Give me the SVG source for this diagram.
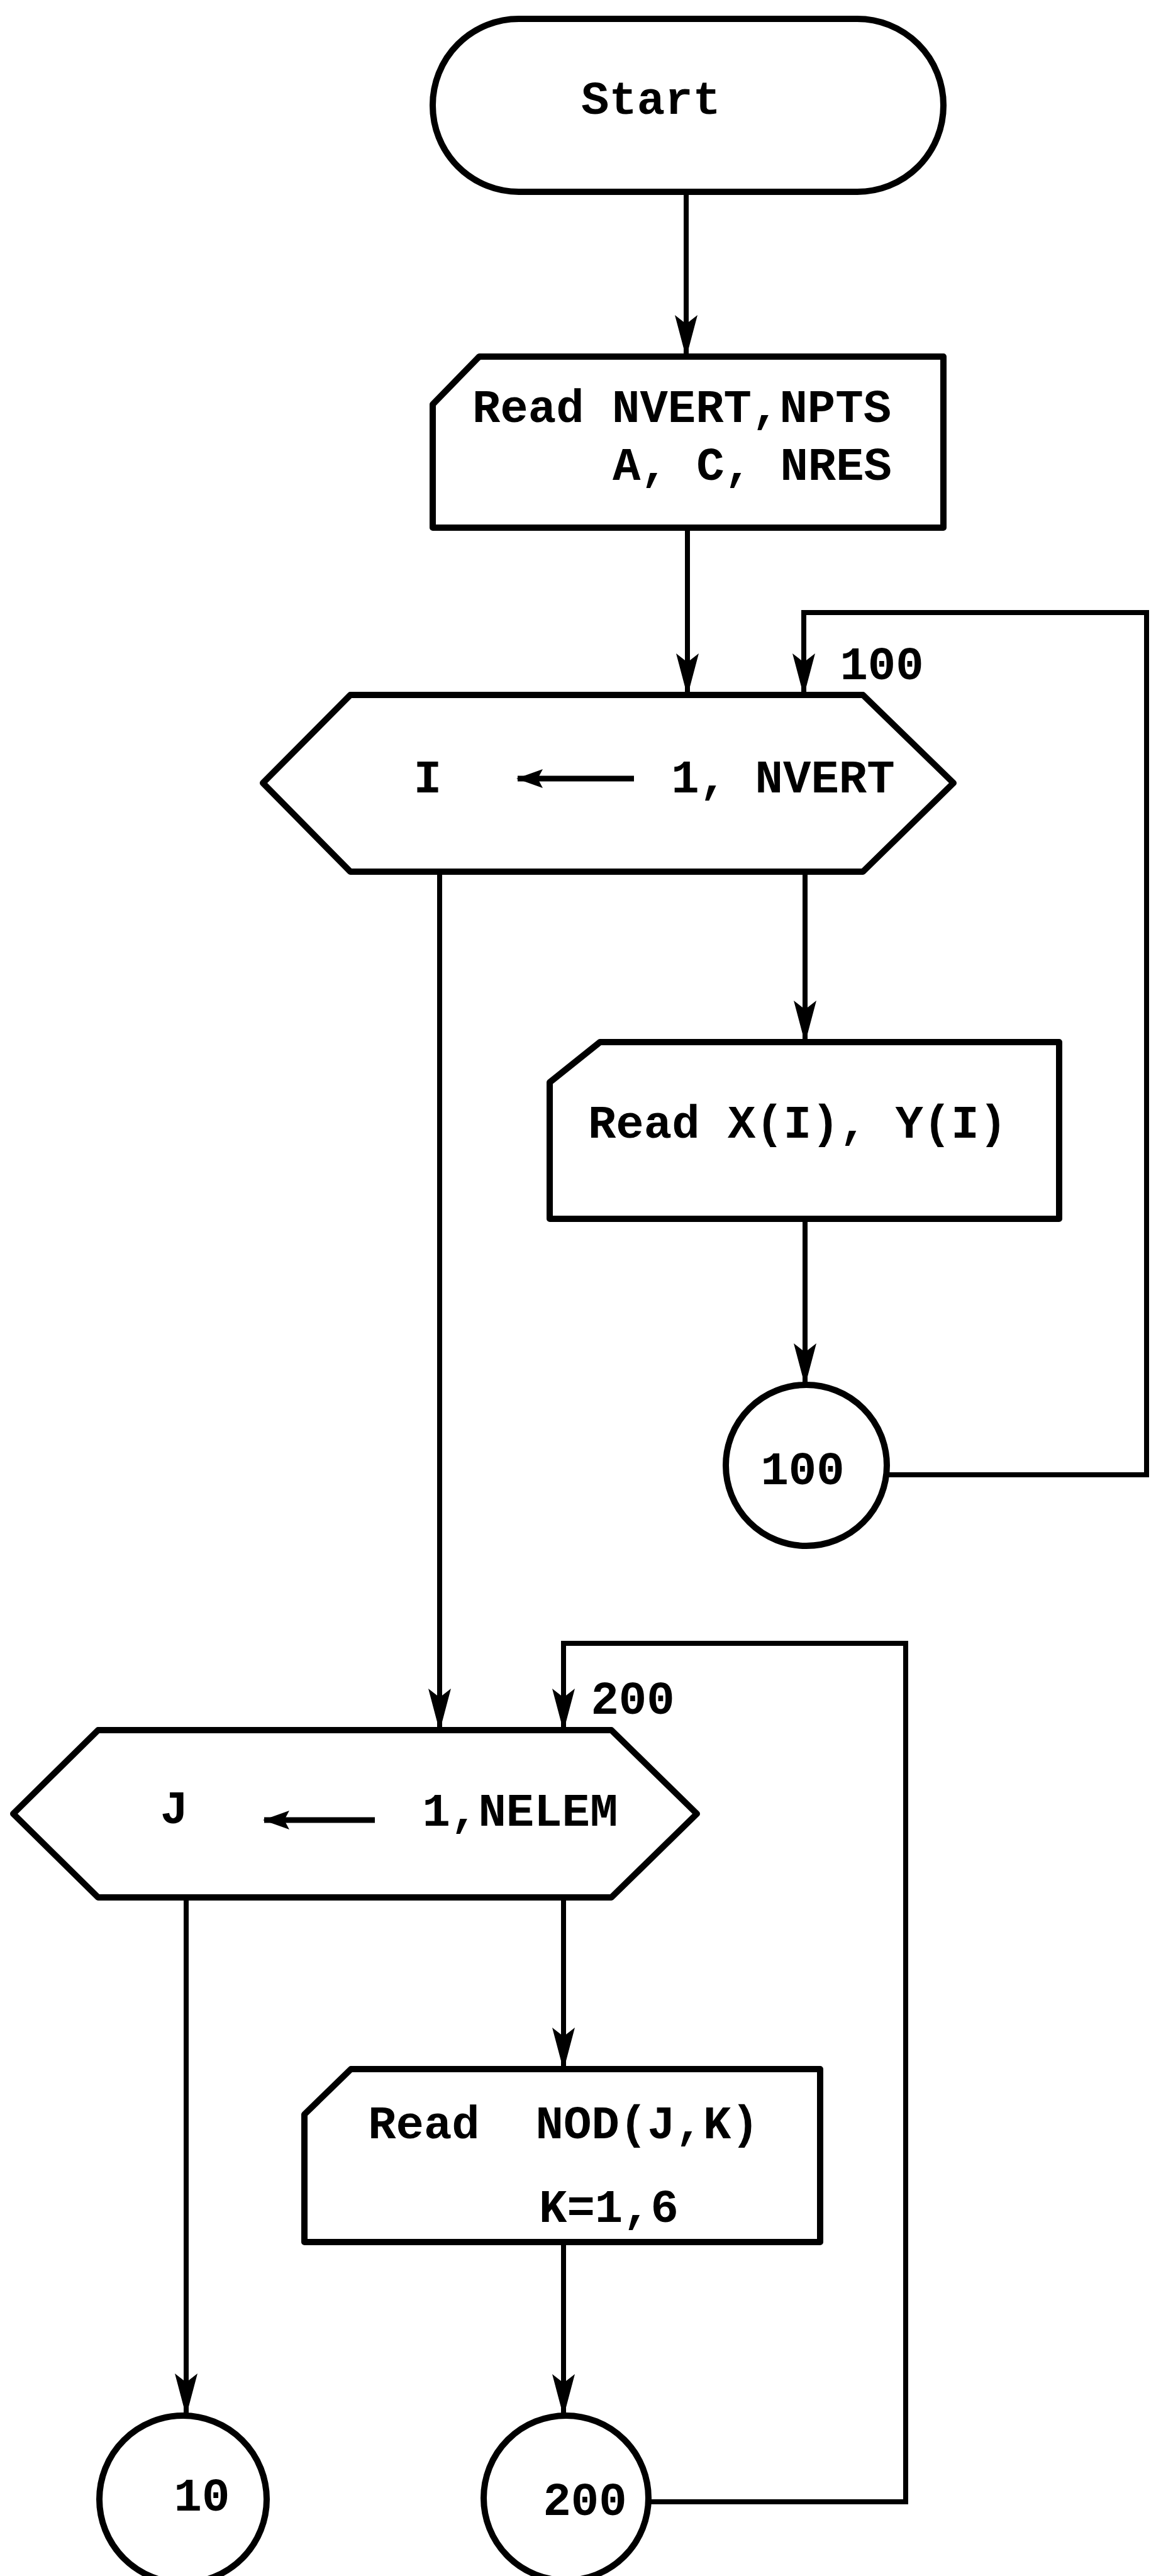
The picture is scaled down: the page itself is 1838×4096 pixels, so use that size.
<svg xmlns="http://www.w3.org/2000/svg" width="1838" height="4096" viewBox="0 0 1838 4096">
<style>
.shape{fill:#fff;stroke:#000;stroke-width:10;stroke-linejoin:round}
.conn{fill:none;stroke:#000;stroke-width:8;stroke-linejoin:miter}
.lbl{font-family:"Liberation Mono","Courier New",monospace;font-weight:bold;font-size:74px;fill:#000;text-anchor:middle}
.inarrow{fill:none;stroke:#000;stroke-width:9}
</style>
<defs>
<marker id="ah" markerUnits="userSpaceOnUse" markerWidth="68" markerHeight="36" refX="66" refY="18" orient="auto" viewBox="0 0 68 36">
<path d="M0,0 L68,18 L0,36 L14,18 z" fill="#000"/>
</marker>
<marker id="ahs" markerUnits="userSpaceOnUse" markerWidth="42" markerHeight="30" refX="40" refY="15" orient="auto" viewBox="0 0 42 30">
<path d="M0,0 L42,15 L0,30 L8,15 z" fill="#000"/>
</marker>
</defs>
<g id="connectors">
<line class="conn" x1="1091" y1="305" x2="1091" y2="567" marker-end="url(#ah)"/>
<line class="conn" x1="1093" y1="839" x2="1093" y2="1105" marker-end="url(#ah)"/>
<line class="conn" x1="1280" y1="1386" x2="1280" y2="1657" marker-end="url(#ah)"/>
<line class="conn" x1="1280" y1="1938" x2="1280" y2="2202" marker-end="url(#ah)"/>
<polyline class="conn" points="1410,2345 1823,2345 1823,974 1278,974 1278,1105" marker-end="url(#ah)"/>
<line class="conn" x1="699" y1="1386" x2="699" y2="2751" marker-end="url(#ah)"/>
<line class="conn" x1="896" y1="3017" x2="896" y2="3290" marker-end="url(#ah)"/>
<line class="conn" x1="296" y1="3017" x2="296" y2="3840" marker-end="url(#ah)"/>
<line class="conn" x1="896" y1="3565" x2="896" y2="3841" marker-end="url(#ah)"/>
<polyline class="conn" points="1031,3978 1440,3978 1440,2613 896,2613 896,2751" marker-end="url(#ah)"/>
<text class="lbl" x="1402" y="1080">100</text>
<text class="lbl" x="1006" y="2725">200</text>
</g>
<g id="start">
<rect class="shape" x="688" y="30" width="812" height="275" rx="137" ry="137"/>
<text class="lbl" x="1035" y="181">Start</text>
</g>
<g id="read1">
<polygon class="shape" points="762,567 1500,567 1500,839 688,839 688,643"/>
<text class="lbl" x="1084" y="671">Read NVERT,NPTS</text>
<text class="lbl" x="1196" y="763">A, C, NRES</text>
</g>
<g id="loopI">
<polygon class="shape" points="418,1245 557,1105 1372,1105 1516,1245 1372,1386 557,1386"/>
<text class="lbl" x="680" y="1260">I</text>
<line class="inarrow" x1="1008" y1="1238" x2="823" y2="1238" marker-end="url(#ahs)"/>
<text class="lbl" x="1245" y="1260">1, NVERT</text>
</g>
<g id="readXY">
<polygon class="shape" points="954,1657 1684,1657 1684,1938 874,1938 874,1721"/>
<text class="lbl" x="1268" y="1809">Read X(I), Y(I)</text>
</g>
<g id="c100">
<circle class="shape" cx="1282" cy="2330" r="128"/>
<text class="lbl" x="1276" y="2360">100</text>
</g>
<g id="loopJ">
<polygon class="shape" points="21,2884 156,2751 972,2751 1108,2884 972,3017 156,3017"/>
<text class="lbl" x="277" y="2899">J</text>
<line class="inarrow" x1="596" y1="2894" x2="420" y2="2894" marker-end="url(#ahs)"/>
<text class="lbl" x="827" y="2903">1,NELEM</text>
</g>
<g id="readNOD">
<polygon class="shape" points="558,3290 1304,3290 1304,3565 484,3565 484,3362"/>
<text class="lbl" x="896" y="3400" xml:space="preserve">Read  NOD(J,K)</text>
<text class="lbl" x="968" y="3533">K=1,6</text>
</g>
<g id="c10">
<circle class="shape" cx="291" cy="3974" r="133"/>
<text class="lbl" x="321" y="3992">10</text>
</g>
<g id="c200">
<circle class="shape" cx="900" cy="3972" r="131"/>
<text class="lbl" x="930" y="3999">200</text>
</g>
</svg>
